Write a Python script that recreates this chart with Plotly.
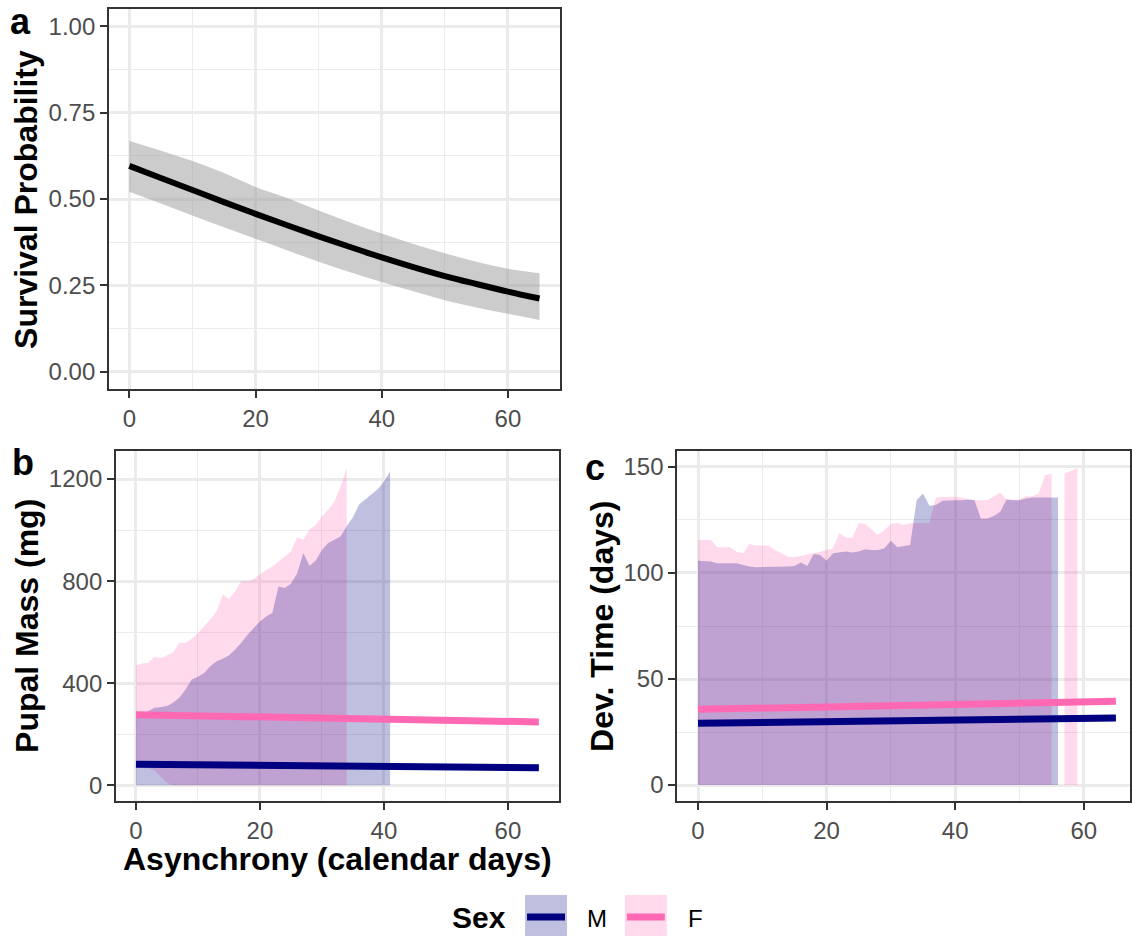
import plotly.graph_objects as go

# ---------------- data ----------------
# Panel a: survival probability vs asynchrony
ASYNC_A = [0, 5, 10, 15, 20, 25, 30, 35, 40, 45, 50, 55, 60, 65]
SURV_FIT = [0.596, 0.561, 0.526, 0.491, 0.457, 0.424, 0.392, 0.361, 0.331, 0.303, 0.277, 0.254, 0.232, 0.212]
SURV_HI = [0.668, 0.640, 0.610, 0.575, 0.535, 0.503, 0.467, 0.432, 0.400, 0.370, 0.343, 0.318, 0.298, 0.285]
SURV_LO = [0.521, 0.487, 0.452, 0.418, 0.385, 0.352, 0.318, 0.288, 0.260, 0.233, 0.207, 0.186, 0.168, 0.150]

# Panel b: pupal mass ribbons (per calendar day) and fitted lines
MASS_X_M = list(range(0, 42))
MASS_HI_M = [271, 278, 291, 304, 306, 310, 323, 343, 375, 414, 425, 440, 466, 486, 496, 508, 532, 558,
             590, 616, 642, 661, 675, 779, 773, 790, 830, 910, 860, 881, 922, 949, 962, 975, 1015, 1050,
             1100, 1120, 1140, 1160, 1190, 1230]
MASS_LO_M = [0, 0, 0, 0, 0, 0, 0, 0, 0, 0, 0, 0, 0, 0, 0, 0, 0, 0, 0, 0, 0, 0, 0, 0, 0, 0, 0, 0, 0, 0,
             0, 0, 0, 0, 0, 0, 0, 0, 0, 0, 0, 0]
MASS_X_F = list(range(0, 35))
MASS_HI_F = [469, 477, 480, 503, 499, 508, 521, 558, 558, 573, 597, 623, 649, 681, 747, 730, 760, 799,
             799, 808, 825, 844, 857, 877, 896, 916, 972, 962, 1001, 1020, 1053, 1079, 1111, 1170, 1242]
MASS_LO_F = [68, 68, 66, 58, 35, 10, 0, 0, 0, 0, 0, 0, 0, 0, 0, 0, 0, 0, 0, 0, 0, 0, 0, 0, 0, 0, 0, 0,
             0, 0, 0, 0, 0, 0, 0]
LINE_X = [0, 65]
MASS_FIT_M = [82, 68]
MASS_FIT_F = [276, 248]

# Panel c: development time ribbons and fitted lines
DEV_X_M = list(range(0, 57))
DEV_HI_M = [105.8, 105.7, 105.4, 104.6, 104.6, 104.6, 104.6, 103.8, 103.0, 102.7, 102.7, 102.7, 102.7,
            102.7, 103.0, 103.3, 104.9, 103.3, 109.0, 108.5, 105.8, 109.3, 109.6, 110.1, 109.6, 110.1,
            111.2, 110.8, 110.8, 111.6, 115.2, 112.1, 112.7, 113.2, 134.3, 137.5, 131.7, 132.0, 134.0,
            134.3, 134.3, 134.3, 134.6, 134.3, 125.7, 125.7, 126.8, 128.9, 134.6, 134.3, 134.3, 135.1,
            135.6, 135.6, 135.6, 135.6, 135.6]
DEV_X_F = list(range(0, 56)) + [57, 58, 59]
DEV_HI_F = [115.5, 115.5, 115.5, 112.1, 112.1, 112.1, 110.0, 109.3, 113.7, 112.9, 113.0, 113.0, 110.8,
            109.3, 107.7, 107.4, 108.0, 108.5, 109.3, 110.0, 110.8, 111.6, 118.7, 116.6, 116.6, 123.4,
            123.1, 120.6, 117.9, 120.2, 123.1, 123.7, 122.6, 123.4, 123.7, 123.4, 123.4, 135.6, 135.9,
            135.9, 135.9, 135.6, 134.6, 134.3, 134.3, 134.3, 136.2, 137.8, 134.6, 134.6, 134.6, 136.2,
            136.2, 137.5, 146.2, 146.6, 146.9, 148.2, 149.4]
DEV_FIT_M = [29.1, 31.6]
DEV_FIT_F = [35.7, 39.5]

SEX_LABELS = ["M", "F"]

# ---------------- styles ----------------
W, H = 1132, 936
NAVY = "#000080"
PINK = "#FF69B4"
FILL_M = "rgba(0,0,128,0.25)"
FILL_F = "rgba(255,105,180,0.25)"
FILL_A = "rgba(153,153,153,0.5)"
FONT = "Liberation Sans"
TICKC = "#4D4D4D"
GRID = "#EBEBEB"
FRAME = "#333333"


def px_x(p):
    return p / W


def px_y(p):
    return 1 - p / H


def runs(xs, hi, lo, gap):
    out, cur = [], [[], [], []]
    for i, x in enumerate(xs):
        if cur[0] and x - cur[0][-1] > gap:
            out.append(cur)
            cur = [[], [], []]
        cur[0].append(x); cur[1].append(hi[i]); cur[2].append(lo[i])
    if cur[0]:
        out.append(cur)
    return out


def ribbon(xs, hi, lo, color, xa, ya, gap=1, shape="linear"):
    traces = []
    for x, h, l in runs(xs, hi, lo, gap):
        traces.append(go.Scatter(x=x, y=l, mode="lines", line=dict(width=0, shape=shape),
                                 hoverinfo="skip", showlegend=False, xaxis=xa, yaxis=ya))
        traces.append(go.Scatter(x=x, y=h, fill="tonexty", fillcolor=color,
                                 mode="lines", line=dict(width=0, shape=shape), hoverinfo="skip",
                                 showlegend=False, xaxis=xa, yaxis=ya))
    return traces


fig = go.Figure()
# panel a
for t in ribbon(ASYNC_A, SURV_HI, SURV_LO, FILL_A, "x", "y", gap=100, shape="spline"):
    fig.add_trace(t)
fig.add_trace(go.Scatter(x=ASYNC_A, y=SURV_FIT, mode="lines",
                         line=dict(color="black", width=6, shape="spline"),
                         showlegend=False, xaxis="x", yaxis="y"))
# panel b
for t in ribbon(MASS_X_F, MASS_HI_F, MASS_LO_F, FILL_F, "x2", "y2"):
    fig.add_trace(t)
for t in ribbon(MASS_X_M, MASS_HI_M, MASS_LO_M, FILL_M, "x2", "y2"):
    fig.add_trace(t)
fig.add_trace(go.Scatter(x=LINE_X, y=MASS_FIT_M, mode="lines", line=dict(color=NAVY, width=7),
                         showlegend=False, xaxis="x2", yaxis="y2"))
fig.add_trace(go.Scatter(x=LINE_X, y=MASS_FIT_F, mode="lines", line=dict(color=PINK, width=7),
                         showlegend=False, xaxis="x2", yaxis="y2"))
# panel c
DEV_LO_F = [0 for _ in DEV_X_F]
DEV_LO_M = [0 for _ in DEV_X_M]
for t in ribbon(DEV_X_F, DEV_HI_F, DEV_LO_F, FILL_F, "x3", "y3"):
    fig.add_trace(t)
for t in ribbon(DEV_X_M, DEV_HI_M, DEV_LO_M, FILL_M, "x3", "y3"):
    fig.add_trace(t)
fig.add_trace(go.Scatter(x=LINE_X, y=DEV_FIT_M, mode="lines", line=dict(color=NAVY, width=7),
                         showlegend=False, xaxis="x3", yaxis="y3"))
fig.add_trace(go.Scatter(x=LINE_X, y=DEV_FIT_F, mode="lines", line=dict(color=PINK, width=7),
                         showlegend=False, xaxis="x3", yaxis="y3"))


def axis(domain, rng, dtick, minor, anchor):
    return dict(domain=domain, range=rng, anchor=anchor, tick0=0, dtick=dtick,
                showgrid=True, gridcolor=GRID, gridwidth=2.5,
                minor=dict(dtick=minor, tick0=0, showgrid=True, gridcolor=GRID, gridwidth=1.2, ticks=""),
                zeroline=False, showline=True, linecolor=FRAME, linewidth=1.5, mirror=True,
                ticks="outside", ticklen=7, tickwidth=2, tickcolor=FRAME,
                tickfont=dict(family=FONT, size=24, color=TICKC), fixedrange=True)


XR = [-3.25, 68.25]
layout = dict(
    width=W, height=H, margin=dict(l=0, r=0, t=0, b=0),
    paper_bgcolor="white", plot_bgcolor="white", showlegend=False,
    xaxis=axis([px_x(109), px_x(561)], XR, 20, 10, "y"),
    yaxis=axis([px_y(389), px_y(9)], [-0.05, 1.05], 0.25, 0.125, "x"),
    xaxis2=axis([px_x(116), px_x(560)], XR, 20, 10, "y2"),
    yaxis2=axis([px_y(801), px_y(451)], [-62, 1310], 400, 200, "x2"),
    xaxis3=axis([px_x(678.3), 1.0], [-3.25, 67.19], 20, 10, "y3"),
    yaxis3=axis([px_y(801), px_y(451)], [-7.5, 157.5], 50, 25, "x3"),
)
layout["yaxis"]["tickformat"] = ".2f"
fig.update_layout(**layout)

ann = []


def text(t, x, y, size, bold=False, angle=0, xanchor="center", color="black"):
    ann.append(dict(text=t, x=px_x(x), y=px_y(y), xref="paper", yref="paper", showarrow=False,
                    xanchor=xanchor, yanchor="middle", textangle=angle,
                    font=dict(family=FONT, size=size, color=color, weight="bold" if bold else "normal")))


text("Survival Probability", 26, 199, 32, True, -90)
text("Pupal Mass (mg)", 27, 626, 32, True, -90)
text("Dev. Time (days)", 603, 626, 32, True, -90)
text("Asynchrony (calendar days)", 338, 859, 32, True)
text("a", 21, 21, 36, True)
text("b", 23, 462, 36, True)
text("c", 596, 467, 36, True)

# legend
text("Sex", 451, 917, 30, True, xanchor="left")
shapes = []
keys = [(526, NAVY, FILL_M, 586), (626, PINK, FILL_F, 687)]
for lab, (kx, lc, fc, tx) in zip(SEX_LABELS, keys):
    shapes.append(dict(type="rect", xref="paper", yref="paper", x0=px_x(kx), x1=px_x(kx + 42),
                       y0=px_y(937), y1=px_y(895), fillcolor=fc, line=dict(width=0), layer="above"))
    shapes.append(dict(type="line", xref="paper", yref="paper", x0=px_x(kx + 2), x1=px_x(kx + 40),
                       y0=px_y(917), y1=px_y(917), line=dict(color=lc, width=7), layer="above"))
    text(lab, tx, 918, 24, False, xanchor="left")

fig.update_layout(annotations=ann, shapes=shapes)
fig.write_html("out.html")
